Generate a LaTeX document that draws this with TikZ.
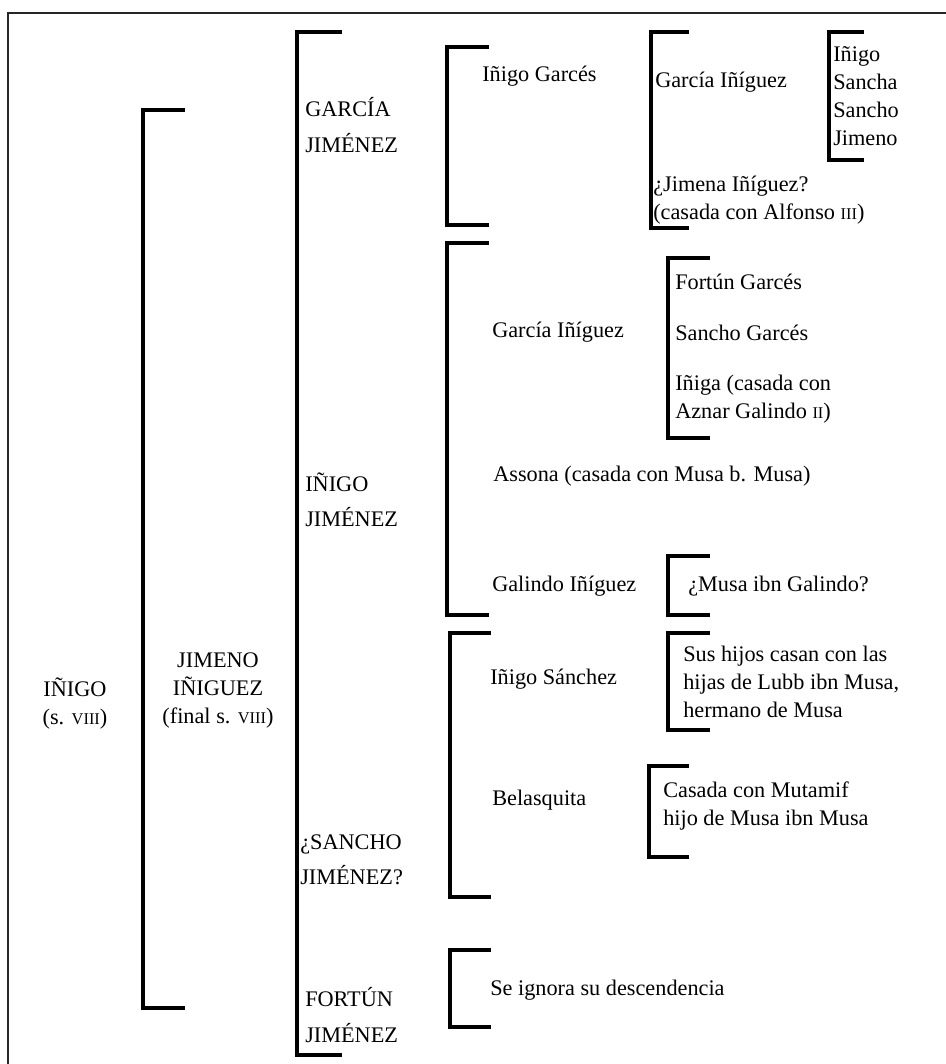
\documentclass[tikz,border=0pt]{standalone}
\usepackage{fontspec}
\setmainfont{Liberation Serif}
\newcommand\smc[1]{{\fontsize{12.3}{21}\selectfont #1}}
\newcommand\drawbracket[4]{\draw[brk] (#4,#2) -- (#1,#2) -- (#1,#3) -- (#4,#3);}
\begin{document}
\begin{tikzpicture}[x=0.75pt,y=-0.75pt,
  brk/.style={line width=2.9pt, line cap=rect},
  frame/.style={line width=1.1pt, draw=black!85},
  txt/.style={inner sep=0pt, anchor=west, align=left, font=\fontsize{16.7}{21}\selectfont},
  big/.style={inner sep=0pt, anchor=west, align=left, font=\fontsize{16.7}{26.5}\selectfont},
  ctr/.style={inner sep=0pt, align=center, font=\fontsize{16.7}{21}\selectfont}]
\useasboundingbox (0,0) rectangle (946,1064);
% frame
\draw[frame] (946,13) -- (8,13) -- (8,1064);
% brackets
\drawbracket{143}{110}{1008}{183}
\drawbracket{297}{32}{1055}{340}
\drawbracket{447}{47}{225}{487}
\drawbracket{651}{32}{228}{687}
\drawbracket{829}{32}{160}{862}
\drawbracket{447}{243}{615}{487}
\drawbracket{668}{258}{438}{708}
\drawbracket{668}{556}{615}{708}
\drawbracket{450}{633}{897}{489}
\drawbracket{668}{633}{730}{708}
\drawbracket{649}{766}{857}{687}
\drawbracket{450}{950}{1027}{489}
% level 0/1
\node[ctr] (inigo) at (75,704) {IÑIGO\\(s. \smc{VIII})};
\node[ctr] (jimeno) at (218,690) {JIMENO\\IÑIGUEZ\\(final s. \smc{VIII})};
% level 2
\node[big] (garcia) at (305,125) {GARCÍA\\JIMÉNEZ};
\node[big] (inigoj) at (305,500) {IÑIGO\\JIMÉNEZ};
\node[big] (sancho) at (300,860) {¿SANCHO\\JIMÉNEZ?};
\node[big] (fortun) at (305,1015) {FORTÚN\\JIMÉNEZ};
% level 3
\node[txt] (igarces) at (482,76) {Iñigo Garcés};
\node[txt] (giniguez) at (655,82) {García Iñíguez};
\node[txt] (jimena) at (653,200) {¿Jimena Iñíguez?\\(casada con Alfonso \smc{III})};
\node[txt] (hijos1) at (833,96) {Iñigo\\Sancha\\Sancho\\Jimeno};
\node[txt] (giniguez2) at (492,332) {García Iñíguez};
\node[txt] (fgarces) at (675,282) {Fortún Garcés};
\node[txt] (sgarces) at (675,333) {Sancho Garcés};
\node[txt] (iniga) at (675,399) {Iñiga (casada con\\Aznar Galindo \smc{II})};
\node[txt] (assona) at (493,476) {Assona (casada con Musa b. Musa)};
\node[txt] (galindo) at (492,586) {Galindo Iñíguez};
\node[txt] (musa) at (688,586) {¿Musa ibn Galindo?};
\node[txt] (isanchez) at (490,679) {Iñigo Sánchez};
\node[txt] (sus) at (683,682) {Sus hijos casan con las\\hijas de Lubb ibn Musa,\\hermano de Musa};
\node[txt] (belasquita) at (492,800) {Belasquita};
\node[txt] (casada) at (663,806) {Casada con Mutamif\\hijo de Musa ibn Musa};
\node[txt] (ignora) at (490,990) {Se ignora su descendencia};
\end{tikzpicture}
\end{document}
